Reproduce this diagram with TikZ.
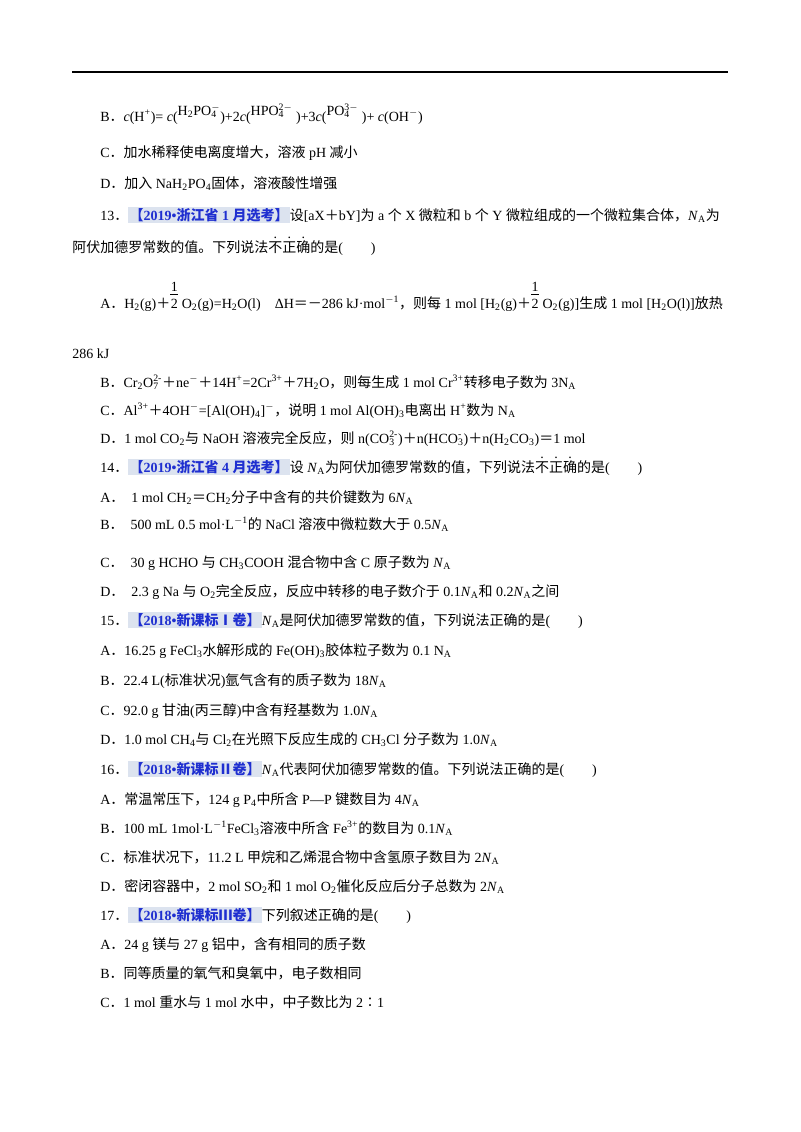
\documentclass[tikz,border=0pt]{standalone}
\usepackage{fontspec}
\setmainfont{Liberation Serif}
\newfontfamily\cjk{Noto Sans CJK SC}
\newfontfamily\latn{Liberation Serif}
\XeTeXinterchartokenstate=1
\newXeTeXintercharclass\cjkc
\count255="3000 \loop\ifnum\count255<"303F \XeTeXcharclass\count255=\cjkc \advance\count255 by 1 \repeat
\count255="4E00 \loop\ifnum\count255<"9FFF \XeTeXcharclass\count255=\cjkc \advance\count255 by 1 \repeat
\count255="FF00 \loop\ifnum\count255<"FFEF \XeTeXcharclass\count255=\cjkc \advance\count255 by 1 \repeat
\XeTeXcharclass"2160=\cjkc \XeTeXcharclass"2161=\cjkc \XeTeXcharclass"2162=\cjkc \XeTeXcharclass"2236=\cjkc
\XeTeXinterchartoks 0 \cjkc {\cjk}
\XeTeXinterchartoks 4095 \cjkc {\cjk}
\XeTeXinterchartoks \cjkc 0 {\latn}
\XeTeXinterchartoks \cjkc 4095 {\latn}
\definecolor{tagbg}{HTML}{DCE3EF}
\definecolor{tagfg}{HTML}{1F2FD0}
\newcommand\sps[1]{\textsuperscript{#1}}
\newcommand\sbs[1]{\textsubscript{#1}}
\newsavebox\chsA \newsavebox\chsB
\newcommand\chs[2]{\sbox\chsA{\textsubscript{#1}}\sbox\chsB{\textsuperscript{#2}}%
  \ifdim\wd\chsA>\wd\chsB\rlap{\usebox\chsB}\usebox\chsA\else\rlap{\usebox\chsA}\usebox\chsB\fi}
\newcommand\NA{\textit{N}\sbs{A}}
\newcommand\Na{N\sbs{A}}
\newcommand\tg[1]{{\setlength{\fboxsep}{1pt}\colorbox{tagbg}{\textcolor{tagfg}{\bfseries #1}}}}
\newcommand\emd[1]{\rlap{\raisebox{0.95em}{\makebox[1em]{\latn .}}}#1}
\newcommand\half{\shortstack{1\\[-1pt]\rule{6pt}{0.5pt}\\2}}
\begin{document}
\begin{tikzpicture}[x=0.75pt,y=-0.75pt,every node/.style={anchor=base west,inner sep=0pt,font=\fontsize{10.5pt}{12pt}\selectfont}]
\useasboundingbox (0,0) rectangle (800,1132);
\draw[line width=0.8pt] (72,72) -- (728,72);
\node (l1) at (100,121) {B．\textit{c}(H\sps{+})= \textit{c}(\raisebox{4pt}{H\sbs{2}PO\chs{4}{$-$}})+2\textit{c}(\raisebox{4pt}{HPO\chs{4}{2$-$}} )+3\textit{c}(\raisebox{4pt}{PO\chs{4}{3$-$}} )+ \textit{c}(OH\sps{$-$})};
\node (l2) at (100,157) {C．加水稀释使电离度增大，溶液 pH 减小};
\node (l3) at (100,188) {D．加入 NaH\sbs{2}PO\sbs{4}固体，溶液酸性增强};
\node (l4) at (100,220) {13．\tg{【2019•浙江省 1 月选考】}设[aX＋bY]为 a 个 X 微粒和 b 个 Y 微粒组成的一个微粒集合体，\NA 为};
\node (l5) at (72,252) {阿伏加德罗常数的值。下列说法\emd{不}\emd{正}\emd{确}的是(　　)};
\node (l6) at (100,308) {A．H\sbs{2}(g)＋\half\ O\sbs{2}(g)=H\sbs{2}O(l)　ΔH＝－286 kJ·mol\sps{$-$1}，则每 1 mol [H\sbs{2}(g)＋\half\ O\sbs{2}(g)]生成 1 mol [H\sbs{2}O(l)]放热};
\node (l7) at (72,358) {286 kJ};
\node (l8) at (100,387) {B．Cr\sbs{2}O\chs{7}{2-}＋ne\sps{$-$}＋14H\sps{+}=2Cr\sps{3+}＋7H\sbs{2}O，则每生成 1 mol Cr\sps{3+}转移电子数为 3\Na};
\node (l9) at (100,415) {C．Al\sps{3+}＋4OH\sps{$-$}=[Al(OH)\sbs{4}]\sps{$-$}，说明 1 mol Al(OH)\sbs{3}电离出 H\sps{+}数为 \Na};
\node (l10) at (100,443) {D．1 mol CO\sbs{2}与 NaOH 溶液完全反应，则 n(CO\chs{3}{2-})＋n(HCO\chs{3}{-})＋n(H\sbs{2}CO\sbs{3})＝1 mol};
\node (l11) at (100,472) {14．\tg{【2019•浙江省 4 月选考】}设 \NA 为阿伏加德罗常数的值，下列说法\emd{不}\emd{正}\emd{确}的是(　　)};
\node (l12) at (100,502) {A．\ \ 1 mol CH\sbs{2}＝CH\sbs{2}分子中含有的共价键数为 6\NA};
\node (l13) at (100,529) {B．\ \ 500 mL 0.5 mol·L\sps{$-$1}的 NaCl 溶液中微粒数大于 0.5\NA};
\node (l14) at (100,567) {C．\ \ 30 g HCHO 与 CH\sbs{3}COOH 混合物中含 C 原子数为 \NA};
\node (l15) at (100,596) {D．\ \ 2.3 g Na 与 O\sbs{2}完全反应，反应中转移的电子数介于 0.1\NA 和 0.2\NA 之间};
\node (l16) at (100,625) {15．\tg{【2018•新课标Ⅰ卷】}\NA 是阿伏加德罗常数的值，下列说法正确的是(　　)};
\node (l17) at (100,655) {A．16.25 g FeCl\sbs{3}水解形成的 Fe(OH)\sbs{3}胶体粒子数为 0.1 \Na};
\node (l18) at (100,685) {B．22.4 L(标准状况)氩气含有的质子数为 18\NA};
\node (l19) at (100,715) {C．92.0 g 甘油(丙三醇)中含有羟基数为 1.0\NA};
\node (l20) at (100,744) {D．1.0 mol CH\sbs{4}与 Cl\sbs{2}在光照下反应生成的 CH\sbs{3}Cl 分子数为 1.0\NA};
\node (l21) at (100,774) {16．\tg{【2018•新课标Ⅱ卷】}\NA 代表阿伏加德罗常数的值。下列说法正确的是(　　)};
\node (l22) at (100,804) {A．常温常压下，124 g P\sbs{4}中所含 P—P 键数目为 4\NA};
\node (l23) at (100,833) {B．100 mL 1mol·L\sps{$-$1}FeCl\sbs{3}溶液中所含 Fe\sps{3+}的数目为 0.1\NA};
\node (l24) at (100,862) {C．标准状况下，11.2 L 甲烷和乙烯混合物中含氢原子数目为 2\NA};
\node (l25) at (100,891) {D．密闭容器中，2 mol SO\sbs{2}和 1 mol O\sbs{2}催化反应后分子总数为 2\NA};
\node (l26) at (100,920) {17．\tg{【2018•新课标Ⅲ卷】}下列叙述正确的是(　　)};
\node (l27) at (100,949) {A．24 g 镁与 27 g 铝中，含有相同的质子数};
\node (l28) at (100,978) {B．同等质量的氧气和臭氧中，电子数相同};
\node (l29) at (100,1007) {C．1 mol 重水与 1 mol 水中，中子数比为 2∶1};
\end{tikzpicture}
\end{document}
